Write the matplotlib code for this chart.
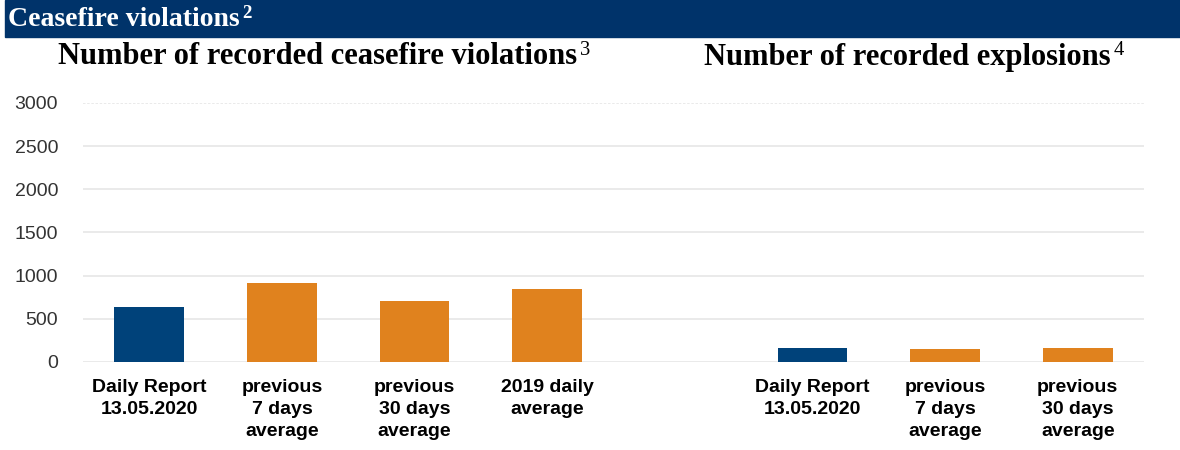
import matplotlib

matplotlib.use("Agg")
import matplotlib.pyplot as plt
from matplotlib.patches import Rectangle

# data
violation_labels = ["Daily Report\n13.05.2020", "previous\n7 days\naverage",
                    "previous\n30 days\naverage", "2019 daily\naverage"]
violation_values = [640, 910, 710, 840]

explosion_labels = ["Daily Report\n13.05.2020", "previous\n7 days\naverage",
                    "previous\n30 days\naverage"]
explosion_values = [165, 150, 165]

y_ticks = [0, 500, 1000, 1500, 2000, 2500, 3000]

NAVY = "#00427a"
ORANGE = "#e0821e"
BANNER = "#00336a"
GRID = "#e6e6e6"
SERIF = ["Liberation Serif", "DejaVu Serif"]
SANS = ["Liberation Sans", "DejaVu Sans"]

W, H = 1180, 450
fig = plt.figure(figsize=(W / 100, H / 100), dpi=100)
renderer = fig.canvas.get_renderer()


def heading(x, y, text, sup, size, color, sup_weight):
    # main text starting at pixel x, superscript placed after its extent
    t = fig.text(x / W, 1 - y / H, text, color=color, fontsize=size,
                 fontweight="bold", family=SERIF, va="center", ha="left")
    box = t.get_window_extent(renderer)
    fig.text((box.x1 + 3) / W, 1 - (y - 0.28 * size) / H, sup, color=color,
             fontsize=size * 0.68, fontweight=sup_weight, family=SERIF,
             va="center", ha="left")


# both charts share one value axis; one empty slot separates them
left_pos = list(range(len(violation_values)))
gap = len(violation_values) + 1
right_pos = [gap + i for i in range(len(explosion_values))]

ax = fig.add_axes([83 / W, 1 - 362 / H, (1144 - 83) / W, 259 / H])
ax.bar(left_pos, violation_values, width=0.525,
       color=[NAVY] + [ORANGE] * (len(violation_values) - 1), zorder=2)
ax.bar(right_pos, explosion_values, width=0.525,
       color=[NAVY] + [ORANGE] * (len(explosion_values) - 1), zorder=2)
ax.set_xlim(-0.5, right_pos[-1] + 0.5)
ax.set_ylim(0, 3000)
ax.set_yticks(y_ticks)
ax.set_xticks(left_pos + right_pos)
ax.set_xticklabels(violation_labels + explosion_labels, fontsize=14,
                   fontweight="bold", family=SANS, linespacing=1.4)
for side in ax.spines.values():
    side.set_visible(False)
ax.tick_params(axis="both", length=0)
ax.tick_params(axis="x", pad=12)
ax.tick_params(axis="y", pad=18, labelsize=14, labelcolor="#333333")
for lbl in ax.get_yticklabels():
    lbl.set_family(SANS)
for t in y_ticks:
    ax.axhline(t, color=GRID, linewidth=1.2,
               linestyle=(0, (1.5, 1)) if t == 3000 else "-", zorder=0)

# banner
fig.patches.append(Rectangle((5 / W, 1 - 37 / H), (W - 5) / W, 37 / H,
                             transform=fig.transFigure, color=BANNER, zorder=0))
heading(8, 19, "Ceasefire violations", "2", 20, "white", "bold")
heading(58, 57, "Number of recorded ceasefire violations", "3", 22, "black",
        "normal")
heading(704, 57, "Number of recorded explosions", "4", 22, "black", "normal")

fig.savefig("out.png", dpi=100)
